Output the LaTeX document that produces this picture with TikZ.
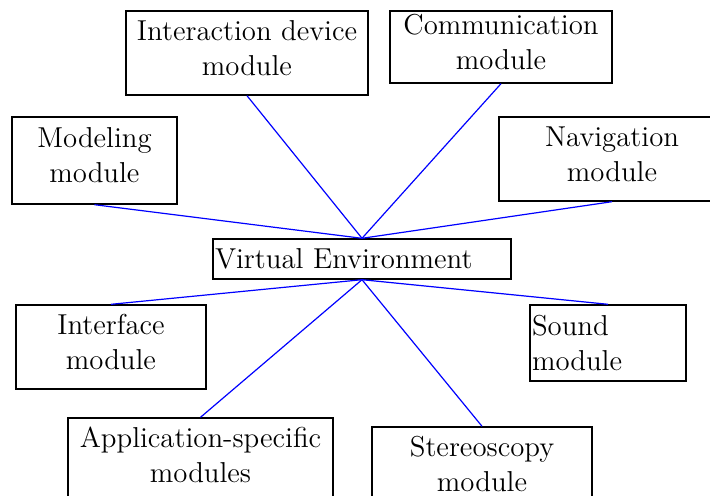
\documentclass[tikz,border=0pt]{standalone}
\usepackage{fontspec}
\begin{document}
\begin{tikzpicture}[x=0.5pt,y=-0.5pt,
    modbox/.style={draw, line width=0.7pt, inner sep=1pt, align=center,
      font=\fontsize{14.4}{17.5}\selectfont},
    twoline/.style={modbox, text depth=5pt},
    link/.style={blue, line width=0.6pt}]
        \useasboundingbox (0,0) rectangle (710,496);
        \clip (0,0) rectangle (710,496);

        \node[twoline, minimum width=121pt, minimum height=42pt] (idev) at (247,53) {Interaction device\\module};
        \node[twoline, minimum width=111pt, minimum height=36pt] (comm) at (501,47) {Communication\\module};
        \node[twoline, minimum width=82.5pt, minimum height=43.5pt] (model) at (94.5,160.5) {Modeling\\module};
        \node[twoline, minimum width=113pt, minimum height=42pt] (nav) at (612,159) {Navigation\\module};

        \node[modbox, text width=147pt, minimum height=20pt, align=left] (ve) at (362,259) {Virtual Environment};

        \node[twoline, minimum width=95pt, minimum height=42pt] (iface) at (111,347) {Interface\\module};
        \node[modbox, text width=76pt, minimum height=38pt, align=left] (sound) at (608,343) {Sound\\module};
        \node[twoline, minimum width=132.5pt, minimum height=42pt] (app) at (200.5,460) {Application-specific\\modules};
        \node[twoline, minimum width=110pt, minimum height=42pt] (stereo) at (482,469) {Stereoscopy\\module};

        \draw[link] (idev.south) -- (ve.north);
        \draw[link] (comm.south) -- (ve.north);
        \draw[link] (model.south) -- (ve.north);
        \draw[link] (nav.south) -- (ve.north);
        \draw[link] (iface.north) -- (ve.south);
        \draw[link] (sound.north) -- (ve.south);
        \draw[link] (app.north) -- (ve.south);
        \draw[link] (stereo.north) -- (ve.south);
      \end{tikzpicture}
\end{document}
